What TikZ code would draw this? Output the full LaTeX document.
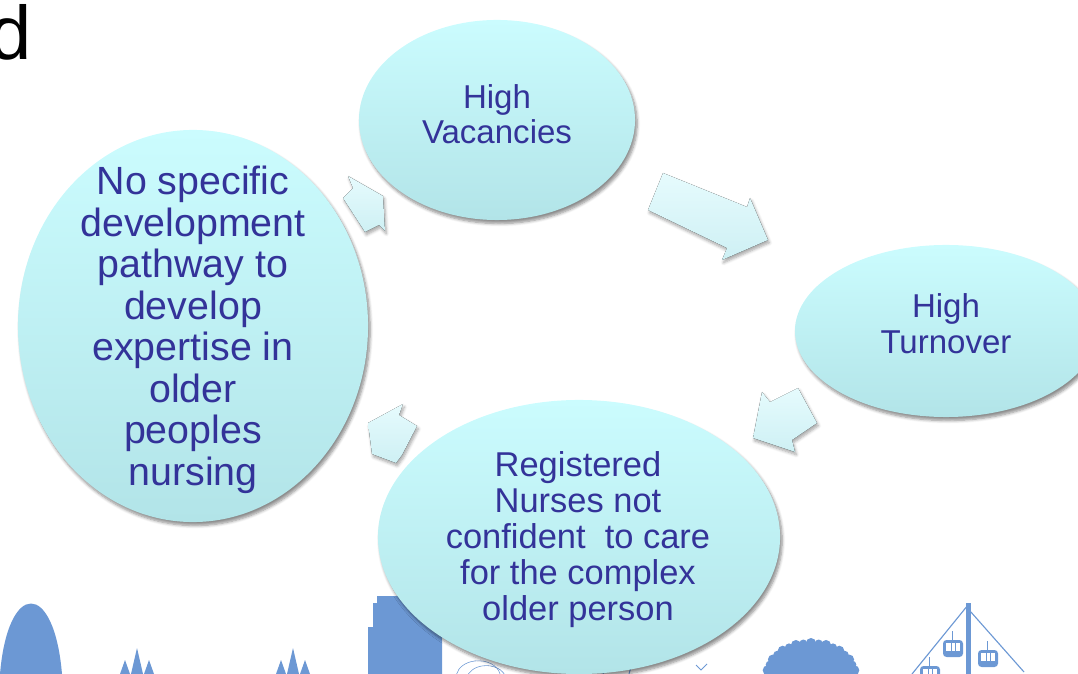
\documentclass[tikz,border=0pt]{standalone}
\usepackage{fontspec}
\setmainfont{Liberation Sans}
\usetikzlibrary{shapes.geometric,shadows.blur}

\definecolor{txtblue}{RGB}{51,51,153}
\definecolor{bubtop}{RGB}{203,252,254}
\definecolor{bubbot}{RGB}{178,228,232}
\definecolor{arrtop}{RGB}{230,251,253}
\definecolor{arrbot}{RGB}{206,240,244}
\definecolor{skyline}{RGB}{108,152,212}

\tikzset{
  bubble/.style={ellipse, inner sep=0pt, top color=bubtop, bottom color=bubbot,
    blur shadow={shadow xshift=1.5pt, shadow yshift=-2.5pt, shadow blur steps=6, shadow opacity=45}},
  bubtext/.style={text=txtblue, align=center, inner sep=0pt},
  cyclearrow/.style={top color=arrtop, bottom color=arrbot,
    blur shadow={shadow xshift=1pt, shadow yshift=-2pt, shadow blur steps=5, shadow opacity=35}},
  city/.style={fill=skyline, draw=none}
}

\begin{document}
\begin{tikzpicture}[x=0.025cm, y=-0.025cm]
  \useasboundingbox (0,0) rectangle (1078,674);
  \clip (0,0) rectangle (1078,674);

  % heading letter at the top left
  \node[anchor=base east, inner sep=0pt, font=\fontsize{54}{54}\selectfont] (head) at (32,60) {d};

  % skyline along the bottom
  \fill[city] (0,674) .. controls (8,580) and (54,580) .. (62,674) -- cycle;
  \foreach \sx in {137,293} {
    \fill[city] (\sx-6,674) -- (\sx,648) -- (\sx+6,674) -- cycle;
    \fill[city] (\sx-17,674) -- (\sx-12,660) -- (\sx-7,674) -- cycle;
    \fill[city] (\sx+7,674) -- (\sx+12,660) -- (\sx+17,674) -- cycle;
  }
  \fill[city] (368,674) -- (368,627) -- (373,627) -- (373,603) -- (377,603) -- (377,596)
    -- (442,596) -- (442,674) -- cycle;
  \draw[skyline, thin] (500,674) arc (-10:-170:22 and 16);
  \draw[skyline, thin] (506,678) arc (-10:-170:20 and 15);
  \draw[skyline, line width=0.7pt] (603,674) -- (606,668);
  \draw[skyline, line width=0.7pt] (629,674) -- (631,667);
  \draw[skyline, line width=0.7pt] (696,665) -- (701,670) -- (707,664);
  % tree crown
  \fill[city] (811,678) ellipse (44 and 34);
  \foreach \a in {0,10,...,180}
    \fill[city] ({811+44*cos(\a)},{676-33*sin(\a)}) circle ({4+mod(\a,20)/10});
  % cable car
  \fill[city] (966,603) rectangle (971,674);
  \draw[skyline, line width=0.8pt] (968,605) -- (912,674);
  \draw[skyline, line width=0.8pt] (970,611) -- (1024,672);
  \foreach \gx/\gy in {943/640, 978/650, 920/666} {
    \draw[skyline, line width=0.8pt] (\gx+9.5,\gy) -- ++(0,-9);
    \fill[city, rounded corners=2.5pt] (\gx,\gy) rectangle ++(20,17);
    \fill[white] (\gx+3,\gy+3) rectangle ++(14,8);
    \fill[city] (\gx+7.5,\gy+3) rectangle ++(1.4,8);
    \fill[city] (\gx+11.6,\gy+3) rectangle ++(1.4,8);
  }

  % block arrows round the cycle
  \fill[cyclearrow] (663,173) -- (747,207) -- (750,198) -- (768,240) -- (722,260)
    -- (727,248) -- (648,210) -- cycle;
  \fill[cyclearrow] (798,388) -- (817,423) -- (792,440) -- (795,452) -- (753,438)
    -- (762,392) -- (770,402) -- cycle;
  \fill[cyclearrow] (403,404) -- (399,415) -- (417,426) -- (402,455) -- (396,463)
    -- (372,454) -- (368,423) -- cycle;
  \fill[cyclearrow] (348,176) -- (383,196) -- (385,231) -- (379,225) -- (365,232)
    -- (343,198) -- (353,188) -- cycle;

  % the four stages
  \node[bubble, minimum width=6.9cm, minimum height=5cm] (vac) at (497,120) {};
  \node[bubble, minimum width=7.55cm, minimum height=4.3cm] (turn) at (946,331) {};
  \node[bubble, minimum width=10.05cm, minimum height=6.85cm] (nurse) at (579,537) {};
  \node[bubble, minimum width=8.75cm, minimum height=9.8cm] (path) at (193,326) {};

  \node[bubtext, font=\fontsize{23.5}{25}\selectfont] (vac-t) at (497,114) {High\\Vacancies};
  \node[bubtext, font=\fontsize{23.5}{25.6}\selectfont] (turn-t) at (946,324) {High\\Turnover};
  \node[bubtext, font=\fontsize{24.5}{25.6}\selectfont] (nurse-t) at (578,540)
    {Registered\\Nurses not\\confident \ to care\\for the complex\\older person};
  \node[bubtext, font=\fontsize{28}{29.5}\selectfont] (path-t) at (193,330)
    {No specific\\development\\pathway to\\develop\\expertise in\\older\\peoples\\nursing};
\end{tikzpicture}
\end{document}
